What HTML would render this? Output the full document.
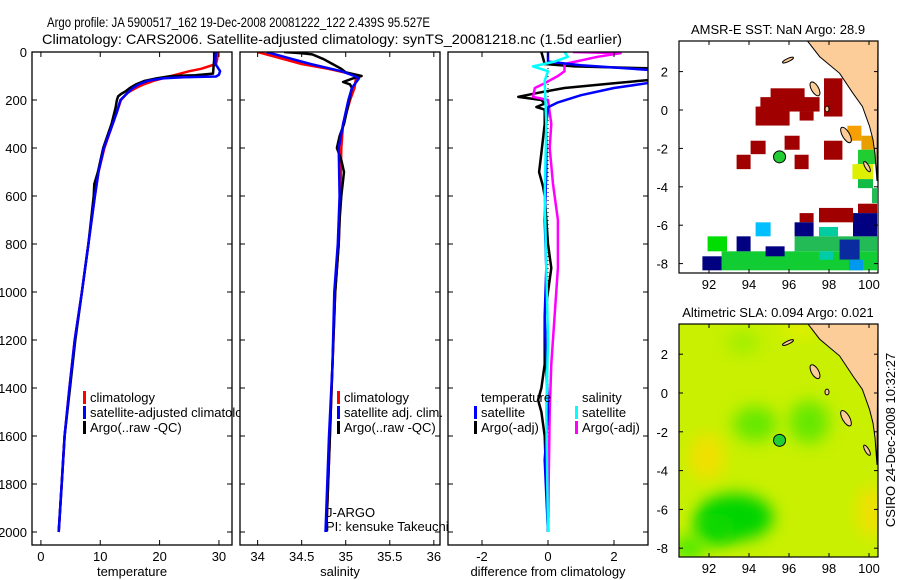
<!DOCTYPE html>
<html><head><meta charset="utf-8"><style>
html,body{margin:0;padding:0;background:#fff;}
svg{display:block;font-family:"Liberation Sans",sans-serif;}
</style></head><body>
<svg id="fig" width="900" height="580" viewBox="0 0 900 580" xmlns="http://www.w3.org/2000/svg">
<text x="47" y="27" font-size="14" textLength="383" lengthAdjust="spacingAndGlyphs">Argo profile: JA 5900517_162 19-Dec-2008 20081222_122 2.439S 95.527E</text>
<text x="42" y="44" font-size="14" textLength="580" lengthAdjust="spacingAndGlyphs">Climatology: CARS2006. Satellite-adjusted climatology: synTS_20081218.nc (1.5d earlier)</text>
<g id="panels"></g>
<g id="maps"></g>
<text transform="translate(895,440) rotate(-90)" text-anchor="middle" font-size="13">CSIRO 24-Dec-2008 10:32:27</text>
</svg>
<script>
// ---------- profile data ----------
const tempClimP = [0,30,50,70,80,90,100,110,120,135,150,170,200,250,300,400,500,600,800,1000,1200,1400,1600,1800,2000];
const tempClim  = [29.8,29.7,29.5,27,25,23.5,22,20.5,19,17.3,16,14.6,13.5,12.8,12.1,10.7,9.7,9.1,8.0,6.9,5.7,4.8,4.0,3.5,3.0];
const tempSatP  = [0,30,50,65,80,95,102,105,110,120,135,150,180,200,250,300,400,500,600,800,1000,1200,1400,1600,1800,2000];
const tempSat   = [29.5,29.4,29.4,29.8,30.2,30,29.5,24,20.5,18,16.5,15.5,14.2,13.4,12.8,12.1,10.6,9.7,9.1,8.0,6.9,5.7,4.8,4.0,3.5,3.0];
const tempArgoP = [0,30,60,90,97,100,110,120,135,150,165,175,185,200,230,260,300,400,500,550,600,800,1000,1200,1400,1600,1800,2000];
const tempArgo  = [29.2,29.2,29.1,29.0,26,22,19.5,17.5,16,15,14.2,13.5,13.0,12.8,12.6,12.3,11.9,10.5,9.6,9.0,8.9,8.0,6.9,5.8,4.9,4.0,3.5,3.0];

const salClimP = [0,20,50,70,90,100,150,200,300,400,600,800,1000,1300,1600,2000];
const salClim  = [34.0,34.2,34.5,34.8,35.05,35.12,35.1,35.05,34.97,34.95,34.94,34.92,34.88,34.85,34.82,34.78];
const salSatP  = [0,20,50,80,100,110,150,200,300,400,600,800,1000,1300,1600,2000];
const salSat   = [34.1,34.3,34.6,34.95,35.1,35.15,35.07,35.03,34.97,34.92,34.93,34.91,34.87,34.85,34.81,34.77];
const salArgoP = [0,5,10,30,50,70,85,100,110,125,135,150,200,300,350,400,450,500,600,700,800,1000,1200,1400,1600,1800,2000];
const salArgo  = [34.3,34.5,34.62,34.75,34.85,34.95,35.0,35.18,35.08,34.97,35.05,35.07,35.04,34.98,34.93,34.9,34.95,34.98,34.95,34.93,34.92,34.88,34.86,34.84,34.82,34.8,34.78];

const dTempSatP = [0,40,55,80,100,130,150,180,210,230,300,500,700,900,1100,1300,1500,1700,2000];
const dTempSat  = [0,0,1,3.6,3.6,3.0,2.0,1.0,0.3,0,-0.05,-0.05,-0.1,-0.05,-0.1,-0.05,0,-0.1,0];
const dTempArgoP = [0,50,60,70,100,115,130,150,170,187,200,215,229,240,300,420,500,560,600,800,900,1000,1100,1300,1400,1450,1500,1600,2000];
const dTempArgo  = [-0.2,-0.1,0.8,3.6,3.6,3.2,2.0,0.5,-0.3,-0.9,-0.2,-0.1,-0.35,-0.1,-0.1,-0.2,-0.27,-0.15,-0.1,0,0.1,0,-0.1,-0.1,-0.2,-0.3,-0.2,-0.1,0];
const dSalSatP = [0,20,40,60,80,120,300,600,900,1200,1500,2000];
const dSalSat  = [0.5,0.6,0.2,-0.45,0,-0.1,-0.05,-0.1,-0.05,0,-0.05,0];
const dSalArgoP = [0,5,20,50,80,100,130,150,187,200,300,400,550,700,900,1100,1300,1500,2000];
const dSalArgo  = [0.75,2.2,1.5,0.5,0.5,0.3,-0.1,-0.4,-0.45,0,0.1,0.05,0.15,0.3,0.3,0.2,0.1,0.05,0];

// ---------- map data (lon0, lat0, lon1, lat1, colour) ----------
const sstCells = [
 [95.08,1.13,96.78,0.41,'#a00000'],[94.57,0.67,97.53,-0.08,'#a00000'],[94.33,0.18,96.03,-0.81,'#a00000'],
 [96.53,-0.08,97.23,-0.55,'#a00000'],[97.75,1.65,98.67,-0.34,'#a00000'],[94.08,-1.6,94.83,-2.3,'#a00000'],
 [95.78,-1.34,96.53,-2.07,'#a00000'],[93.38,-2.33,94.08,-3.08,'#a00000'],[96.28,-2.33,96.98,-3.08,'#a00000'],
 [97.75,-1.6,98.67,-2.59,'#a00000'],[96.53,-5.37,97.23,-5.85,'#a00000'],[97.5,-5.1,99.2,-5.85,'#a00000'],
 [99.45,-4.88,100.4,-5.37,'#a00000'],[98.92,-0.82,99.62,-1.6,'#f5a000'],[99.62,-1.34,100.4,-2.07,'#e8a000'],
 [99.45,-2.07,100.4,-2.82,'#22cc33'],[99.17,-2.82,100.2,-3.6,'#ddf000'],[99.45,-3.6,100.2,-4.07,'#11bb44'],
 [100.15,-4.07,100.4,-4.85,'#22bb55'],[97.5,-6.09,98.45,-6.58,'#00cca0'],[96.28,-6.58,100.4,-7.36,'#22bb55'],
 [92.63,-7.36,100.4,-8.35,'#11cc33'],[96.28,-5.85,97.23,-6.58,'#000080'],[99.2,-5.37,100.4,-6.58,'#000080'],
 [93.38,-6.58,94.08,-7.36,'#000080'],[94.83,-7.1,95.78,-7.62,'#000080'],[91.67,-7.62,92.63,-8.35,'#000080'],
 [98.53,-6.75,99.53,-7.79,'#0a2aa0'],[94.33,-5.85,95.08,-6.58,'#00bfff'],[91.93,-6.58,92.9,-7.36,'#00dd00'],
 [97.5,-7.36,98.2,-7.8,'#00ccaa'],[99.0,-7.8,99.7,-8.35,'#0099ee']
];
const coast = [[96.92,3.6],[97.53,2.78],[98.53,1.91],[99.2,0.87],[99.67,0.18],[100.03,-0.86],[100.2,-1.55],[100.3,-2.3],[100.4,-3.7],[100.45,3.6]];
const islands = [[95.95,2.6,0.3,0.08,-25],[97.3,1.1,0.18,0.4,-30],[98.85,-1.3,0.18,0.45,-30],[99.9,-2.95,0.1,0.3,-30],[97.9,0.05,0.1,0.15,0]];
const argoLon = 95.527, argoLat = -2.439;
const slaBlobs = [[93.3,-6.4,1.9,1.2,'#00d400'],[92.3,-7,1.0,0.8,'#11d800'],[94.3,-1.6,1.1,0.9,'#66e800'],[97.0,-1.5,1.0,1.1,'#66e800'],[91.9,-3.3,0.9,1.2,'#f0e000'],[100.1,-6.1,0.7,1.3,'#f0e000'],[93.7,2.6,0.8,0.6,'#a0ee00'],[91.0,-8,0.8,0.6,'#44e800'],[96.5,3.3,0.8,0.4,'#e8f000']];

const NS = 'http://www.w3.org/2000/svg';
function mk(parent, tag, attrs){ const e=document.createElementNS(NS,tag); for(const k in attrs) e.setAttribute(k,attrs[k]); parent.appendChild(e); return e; }
const panels = document.getElementById('panels');
const PTOP=52, PBOT=545, pY = p => 52 + p*0.24;

function panel(name, x0, x1, vmin, vmax, ticks, tickFmt, label){
  const g = mk(panels,'g',{});
  
  
  mk(g,'rect',{x:x0,y:PTOP,width:x1-x0,height:PBOT-PTOP,fill:'#fff'});
  const xf = v => x0 + (v-vmin)/(vmax-vmin)*(x1-x0);
  return {g, xf, x0, x1, ticks, tickFmt, label};
}
function frame(P, yLabels){
  const g=P.g;
  mk(g,'rect',{x:P.x0,y:PTOP,width:P.x1-P.x0,height:PBOT-PTOP,fill:'none',stroke:'#000','stroke-width':1.3});
  for(const t of P.ticks){
    const x=P.xf(t);
    mk(g,'line',{x1:x,x2:x,y1:PBOT,y2:PBOT-5,stroke:'#000'});
    mk(g,'line',{x1:x,x2:x,y1:PTOP,y2:PTOP+5,stroke:'#000'});
    const tl=mk(g,'text',{x:x,y:PBOT+16,'font-size':13,'text-anchor':'middle'});
    
    
    tl.textContent=P.tickFmt(t);
  }
  for(let p=0;p<=2000;p+=200){
    const y=pY(p);
    mk(g,'line',{x1:P.x0,x2:P.x0+5,y1:y,y2:y,stroke:'#000'});
    mk(g,'line',{x1:P.x1,x2:P.x1-5,y1:y,y2:y,stroke:'#000'});
    if(yLabels){
      const tl=mk(g,'text',{x:P.x0-5,y:y+5,'font-size':13,'text-anchor':'end'});
      
      
      tl.textContent=p;
    }
  }
  const xl=mk(g,'text',{x:(P.x0+P.x1)/2,y:576,'font-size':13,'text-anchor':'middle'});
  
  
  xl.textContent=P.label;
}
let clipId=0;
function series(P, ps, vs, color, w, name){
  clipId++;
  const cp=mk(P.g,'clipPath',{id:'c'+clipId});
  mk(cp,'rect',{x:P.x0,y:PTOP,width:P.x1-P.x0,height:PBOT-PTOP});
  const d=ps.map((p,i)=>(i?'L':'M')+P.xf(vs[i]).toFixed(1)+','+pY(p).toFixed(1)).join(' ');
  const l=mk(P.g,'path',{d:d,fill:'none',stroke:color,'stroke-width':w,'clip-path':'url(#c'+clipId+')','stroke-linejoin':'round'});
  
  
}
function legend(P, x, y, color, text, name){
  if(color) mk(P.g,'rect',{x:x-7,y:y-11,width:3,height:13,fill:color});
  const t=mk(P.g,'text',{x:x,y:y,'font-size':13});
  
  
  t.textContent=text;
}

const P1 = panel('temperature-panel',32,232,-1.5,32.2,[0,10,20,30],v=>v,'temperature');
series(P1,tempClimP,tempClim,'#ff0000',2.5,'temp-climatology-line');
series(P1,tempArgoP,tempArgo,'#000',2.5,'temp-argo-line');
series(P1,tempSatP,tempSat,'#0000ff',2.5,'temp-satellite-line');
legend(P1,90,402,'#ff0000','climatology','legend-climatology');
legend(P1,90,417,'#0000ff','satellite-adjusted climatology','legend-satellite');
legend(P1,90,432,'#000','Argo(..raw -QC)','legend-argo');
frame(P1,true);

const P2 = panel('salinity-panel',240,440,33.8,36.07,[34,34.5,35,35.5,36],v=>v,'salinity');
series(P2,salClimP,salClim,'#ff0000',2.5,'sal-climatology-line');
series(P2,salArgoP,salArgo,'#000',2.5,'sal-argo-line');
series(P2,salSatP,salSat,'#0000ff',2.5,'sal-satellite-line');
legend(P2,344,402,'#ff0000','climatology','legend-climatology');
legend(P2,344,417,'#0000ff','satellite adj. clim.','legend-satellite');
legend(P2,344,432,'#000','Argo(..raw -QC)','legend-argo');
legend(P2,326,517,null,'J-ARGO','float-program');
legend(P2,326,531,null,'PI: kensuke Takeuchi','float-pi');
frame(P2,false);

const P3 = panel('difference-panel',448,648,-3.03,3.03,[-2,0,2],v=>v,'difference from climatology');
mk(P3.g,'line',{x1:P3.xf(0),x2:P3.xf(0),y1:PTOP,y2:PBOT-15,stroke:'#000','stroke-dasharray':'1,3'});
series(P3,dTempArgoP,dTempArgo,'#000',2.5,'dtemp-argo-line');
series(P3,dSalArgoP,dSalArgo,'#ff00ff',2.5,'dsal-argo-line');
series(P3,dTempSatP,dTempSat,'#0000ff',2.5,'dtemp-satellite-line');
series(P3,dSalSatP,dSalSat,'#00ffff',2.5,'dsal-satellite-line');
legend(P3,481,402,null,'temperature','legend-temperature-header');
legend(P3,481,417,'#0000ff','satellite','legend-temp-satellite');
legend(P3,481,432,'#000','Argo(-adj)','legend-temp-argo');
legend(P3,582,402,null,'salinity','legend-salinity-header');
legend(P3,582,417,'#00ffff','satellite','legend-sal-satellite');
legend(P3,582,432,'#ff00ff','Argo(-adj)','legend-sal-argo');
frame(P3,false);

const maps=document.getElementById('maps');
function map(name, top, bot, y0lat, pxPerLat, title, bgFill){
  const g=mk(maps,'g',{});
  
  
  const X0=679, X1=878;
  const xf = lon => 709 + (lon-92)*20;
  const yf = lat => y0lat - lat*pxPerLat;
  clipId++;
  const cp=mk(g,'clipPath',{id:'c'+clipId});
  mk(cp,'rect',{x:X0,y:top,width:X1-X0,height:bot-top});
  const inner=mk(g,'g',{'clip-path':'url(#c'+clipId+')'});
  mk(inner,'rect',{x:X0,y:top,width:X1-X0,height:bot-top,fill:bgFill});
  return {g,inner,xf,yf,X0,X1,top,bot,title};
}
function mapFinish(M){
  const g=M.g, inner=M.inner;
  const d=coast.map((c,i)=>(i?'L':'M')+M.xf(c[0]).toFixed(1)+','+M.yf(c[1]).toFixed(1)).join(' ')+'Z';
  const land=mk(inner,'path',{d:d,fill:'#fccc99',stroke:'#000','stroke-width':1});
  
  
  for(const is of islands){
    const e=mk(inner,'ellipse',{cx:M.xf(is[0]),cy:M.yf(is[1]),rx:is[2]*20,ry:is[3]*19.3,fill:'#fccc99',stroke:'#000','stroke-width':1,transform:`rotate(${is[4]} ${M.xf(is[0])} ${M.yf(is[1])})`});
    
    
  }
  const dot=mk(inner,'circle',{cx:M.xf(argoLon),cy:M.yf(argoLat),r:6,fill:'#22cc33',stroke:'#000','stroke-width':1});
  
  
  mk(g,'rect',{x:M.X0,y:M.top,width:M.X1-M.X0,height:M.bot-M.top,fill:'none',stroke:'#000','stroke-width':1.2});
  for(let lon=92;lon<=100;lon+=2){
    const x=M.xf(lon);
    mk(g,'line',{x1:x,x2:x,y1:M.bot,y2:M.bot-4,stroke:'#000'});
    mk(g,'line',{x1:x,x2:x,y1:M.top,y2:M.top+4,stroke:'#000'});
    const t=mk(g,'text',{x:x,y:M.bot+16,'font-size':13,'text-anchor':'middle'});
    
    
    t.textContent=lon;
  }
  for(let lat=-8;lat<=2;lat+=2){
    const y=M.yf(lat);
    mk(g,'line',{x1:M.X0,x2:M.X0+4,y1:y,y2:y,stroke:'#000'});
    mk(g,'line',{x1:M.X1,x2:M.X1-4,y1:y,y2:y,stroke:'#000'});
    const t=mk(g,'text',{x:M.X0-11,y:y+5,'font-size':13,'text-anchor':'end'});
    
    
    t.textContent=lat;
  }
  const tt=mk(g,'text',{x:778,y:M.top-7,'font-size':13,'text-anchor':'middle'});
  
  
  tt.textContent=M.title;
}
const M1=map('sst-map',41,273,110,19.2,'AMSR-E SST: NaN Argo: 28.9','#fff');
for(const c of sstCells){
  const r=mk(M1.inner,'rect',{x:M1.xf(c[0]),y:M1.yf(c[1]),width:M1.xf(c[2])-M1.xf(c[0]),height:M1.yf(c[3])-M1.yf(c[1]),fill:c[4]});
  
  
}
mapFinish(M1);

const M2=map('sla-map',324,557,393,19.4,'Altimetric SLA: 0.094 Argo: 0.021','#c8f000');
const defs=mk(M2.g,'defs',{});
const flt=mk(defs,'filter',{id:'blur',x:'-50%',y:'-50%',width:'200%',height:'200%'});
mk(flt,'feGaussianBlur',{stdDeviation:8});
for(const b of slaBlobs){
  const e=mk(M2.inner,'ellipse',{cx:M2.xf(b[0]),cy:M2.yf(b[1]),rx:b[2]*20,ry:b[3]*19.4,fill:b[4],filter:'url(#blur)'});
  
  
}
mapFinish(M2);
</script>
</body></html>
